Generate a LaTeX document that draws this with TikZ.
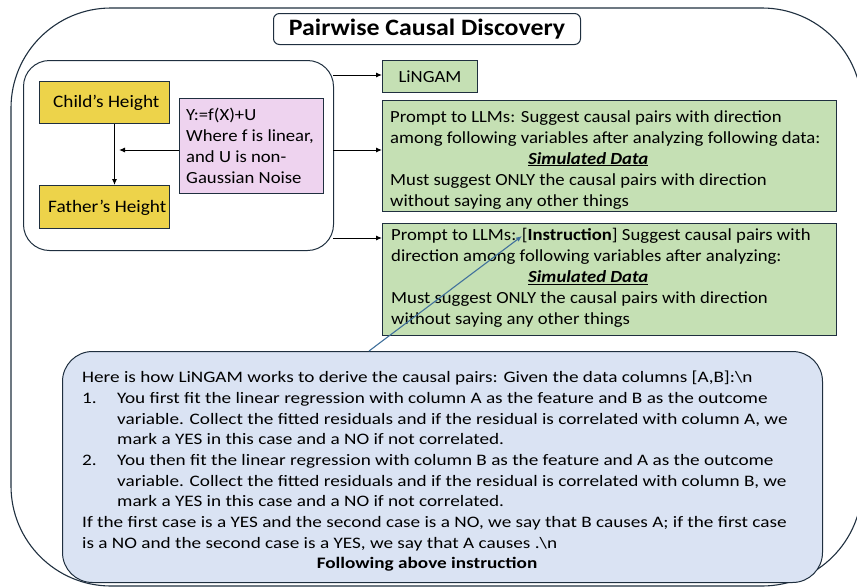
\documentclass[tikz,border=0pt]{standalone}
\usepackage{fontspec}
\setmainfont{Carlito}[FakeStretch=1.1]
\newfontfamily\narrowish{Carlito}[FakeStretch=1.2]
\usetikzlibrary{arrows.meta}
\definecolor{navy}{HTML}{1F2F3F}
\definecolor{ylw}{HTML}{EDD34A}
\definecolor{pnk}{HTML}{EED3EF}
\definecolor{grn}{HTML}{C5E0B4}
\definecolor{lblue}{HTML}{DAE3F3}
\definecolor{steel}{HTML}{41719C}
\tikzset{
  boxr/.style={draw=navy, line width=1pt, anchor=north west, inner sep=0pt},
  txt/.style={anchor=north west, inner sep=0pt, align=left},
  arr/.style={-{Latex[length=6pt,width=5pt]}, line width=1pt, black},
}
\begin{document}
\begin{tikzpicture}[x=1pt,y=-1pt]
\useasboundingbox (0,0) rectangle (857,587);
\clip (0,0) rectangle (857,587);
% outer
\draw[navy, line width=1.1pt, rounded corners=100pt] (11,8) rectangle (862,586);
% title
\node[boxr, rounded corners=6pt, fill=white, minimum width=307pt, minimum height=31pt] (title) at (273,13) {};
\node[font=\fontsize{23.5}{26}\selectfont\bfseries] (titlet) at (title.center) {Pairwise Causal Discovery};
% left inner box
\node[boxr, rounded corners=26pt, minimum width=310pt, minimum height=190pt] (lbox) at (23,60) {};
\node[boxr, fill=ylw, minimum width=130pt, minimum height=42pt] (child) at (39,81) {};
\node[txt, font=\fontsize{17.5}{20}\selectfont, anchor=base west] (childt) at (53,107) {Child’s Height};
\node[boxr, fill=ylw, minimum width=130pt, minimum height=43pt] (father) at (39,185) {};
\node[txt, font=\fontsize{17.5}{20}\selectfont, anchor=base west] (fathert) at (48,212) {Father’s Height};
\node[boxr, fill=pnk, minimum width=144pt, minimum height=95pt] (pink) at (179,98) {};
\node[txt, font=\fontsize{17}{21}\selectfont] (pinkt) at (186,108) {Y:=f(X)+U\\Where f is linear,\\and U is non-\\Gaussian Noise};
\coordinate (vtop) at ([xshift=10pt]child.south);
\coordinate (vbot) at ([xshift=10pt]father.north);
\draw[arr] (vtop) -- (vbot);
\coordinate (ptip) at (119,150);
\draw[arr] (pink.west |- ptip) -- (ptip);
% right boxes
\node[boxr, fill=grn, minimum width=95pt, minimum height=32pt] (lingam) at (382,60) {};
\node[font=\fontsize{17}{20}\selectfont] (lingamt) at (lingam.center) {LiNGAM};
\node[boxr, fill=grn, minimum width=454pt, minimum height=111pt] (g1) at (382,100) {};
\node[txt, font=\fontsize{17}{21}\selectfont] (g1t) at (390,110) {Prompt to LLMs: Suggest causal pairs with direction\\among following variables after analyzing following data:\\\hspace*{138pt}\textbf{\textit{\underline{Simulated Data}}}\\Must suggest ONLY the causal pairs with direction\\without saying any other things};
\node[boxr, fill=grn, minimum width=454pt, minimum height=112pt] (g2) at (382,223) {};
\node[txt, font=\fontsize{17}{21}\selectfont] (g2t) at (391,228) {Prompt to LLMs: [\textbf{Instruction}] Suggest causal pairs with\\direction among following variables after analyzing:\\\hspace*{137pt}\textbf{\textit{\underline{Simulated Data}}}\\Must suggest ONLY the causal pairs with direction\\without saying any other things};
\coordinate (a1) at (333,75);
\coordinate (a2) at (333,150);
\coordinate (a3) at (333,238);
\draw[arr] (a1) -- (a1 -| lingam.west);
\draw[arr] (a2) -- (a2 -| g1.west);
\draw[arr] (a3) -- (a3 -| g2.west);
% blue box
\node[boxr, fill=lblue, rounded corners=30pt, minimum width=760pt, minimum height=231pt] (bbox) at (62,351) {};
\node[txt, font=\narrowish\fontsize{16}{20.7}\selectfont] (bt) at (82,371) {Here is how LiNGAM works to derive the causal pairs: Given the data columns [A,B]:\textbackslash n\\
\makebox[35pt][l]{1.}You first fit the linear regression with column A as the feature and B as the outcome\\
\hspace*{35pt}variable. Collect the fitted residuals and if the residual is correlated with column A, we\\
\hspace*{35pt}mark a YES in this case and a NO if not correlated.\\
\makebox[35pt][l]{2.}You then fit the linear regression with column B as the feature and A as the outcome\\
\hspace*{35pt}variable. Collect the fitted residuals and if the residual is correlated with column B, we\\
\hspace*{35pt}mark a YES in this case and a NO if not correlated.\\
If the first case is a YES and the second case is a NO, we say that B causes A; if the first case\\
is a NO and the second case is a YES, we say that A causes .\textbackslash n};
\node[font=\narrowish\fontsize{16}{20}\selectfont\bfseries, anchor=base] (follow) at (427,568) {Following above instruction};
\coordinate (ltip) at (522,236);
\draw[steel, line width=1.1pt, -{Latex[length=6pt,width=5pt]}] (369,351) -- (ltip);
\end{tikzpicture}
\end{document}
